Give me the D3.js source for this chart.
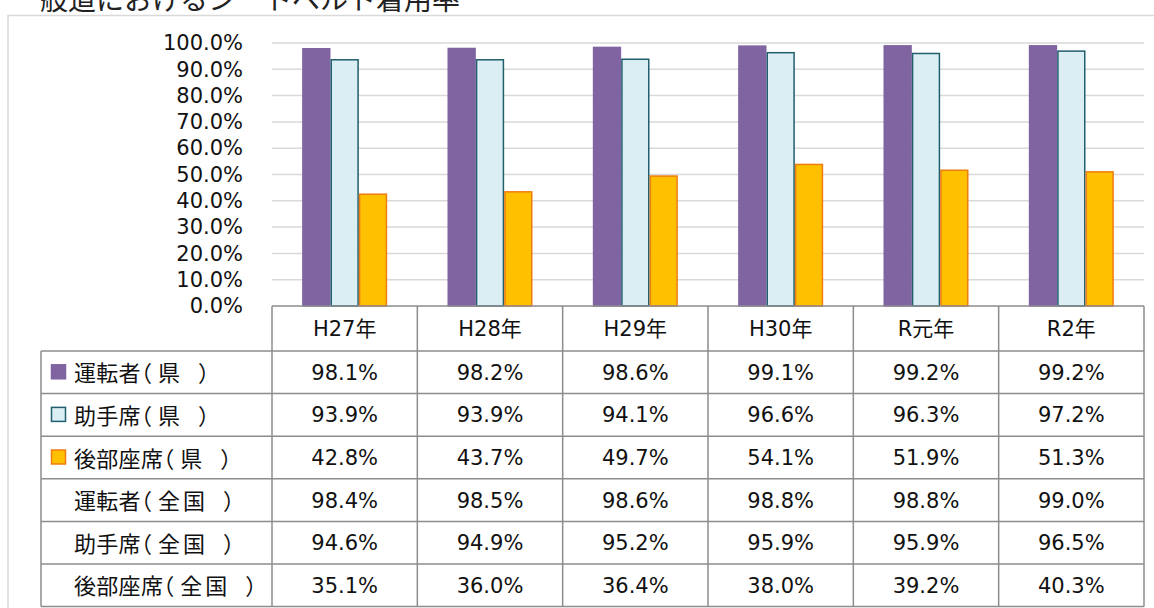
<!DOCTYPE html>
<html><head><meta charset="utf-8">
<script src="https://cdn.jsdelivr.net/npm/d3@7"></script>
<style>
html,body{margin:0;padding:0;background:#fff;}
svg{display:block;font-family:"DejaVu Sans","Noto Sans CJK JP",sans-serif;}
.half{font-feature-settings:"halt" 1;}
</style></head>
<body>
<svg id="chart" width="1154" height="608"></svg>
<script>
const title = "一般道におけるシートベルト着用率";
const categories = ["H27年","H28年","H29年","H30年","R元年","R2年"];
const seriesNames = ["運転者（県）","助手席（県）","後部座席（県）","運転者（全国）","助手席（全国）","後部座席（全国）"];
const driverPref = [98.1,98.2,98.6,99.1,99.2,99.2];
const passengerPref = [93.9,93.9,94.1,96.6,96.3,97.2];
const rearPref = [42.8,43.7,49.7,54.1,51.9,51.3];
const driverNat = [98.4,98.5,98.6,98.8,98.8,99.0];
const passengerNat = [94.6,94.9,95.2,95.9,95.9,96.5];
const rearNat = [35.1,36.0,36.4,38.0,39.2,40.3];
const yTicks = [0,10,20,30,40,50,60,70,80,90,100];

const tableRows = [driverPref, passengerPref, rearPref, driverNat, passengerNat, rearNat];
const barSeries = [driverPref, passengerPref, rearPref];
const fills = ["#8064A2","#DAEEF3","#FFC000"];
const strokes = ["#8064A2","#215E6E","#EE7D10"];

const svg = d3.select("#chart");

// outer frame
svg.append("path").attr("d","M8,608V15.5H1160").attr("fill","none")
  .attr("stroke","#d9d9d9").attr("stroke-width",1.5);

// title (cut off at top, as in the reference)
svg.append("text").attr("x",12).attr("y",10).attr("font-size",28)
  .attr("font-family","'Noto Sans CJK JP',sans-serif").attr("fill","#222").text(title);

const x = d3.scaleBand().domain(categories).range([272,1144]).padding(0);
const y = d3.scaleLinear().domain([0,100]).range([306,43]);
const groupW = x.bandwidth()*0.585;
const xs = d3.scaleBand().domain([0,1,2]).range([0,groupW]).padding(0);

// gridlines
svg.append("g").selectAll("line").data(yTicks.filter(d=>d>0)).join("line")
  .attr("x1",272).attr("x2",1144).attr("y1",d=>y(d)).attr("y2",d=>y(d))
  .attr("stroke","#d9d9d9").attr("stroke-width",1.5);

// y axis labels
const yAxis = d3.axisLeft(y).tickValues(yTicks).tickSize(0).tickPadding(0)
  .tickFormat(d=>d3.format(".1%")(d/100));
const ga = svg.append("g").attr("transform","translate(243,0)").call(yAxis);
ga.select(".domain").remove();
ga.selectAll("text").attr("font-size",21).attr("fill","#111")
  .attr("font-family","'DejaVu Sans',sans-serif");

// bars
barSeries.forEach((vals,si)=>{
  svg.append("g").selectAll("rect").data(vals).join("rect")
    .attr("x",(d,i)=>x(categories[i])+(x.bandwidth()-groupW)/2+xs(si)+0.75)
    .attr("width",xs.bandwidth()-1.5)
    .attr("y",d=>y(d)+0.75)
    .attr("height",d=>y(0)-y(d)-0.75)
    .attr("fill",fills[si]).attr("stroke",strokes[si]).attr("stroke-width",1.5);
});

// table
const tblTop = 306, headerBottom = 351, rowH = 42.6;
const labelLeft = 41;
const rowY = i => headerBottom + i*rowH;
const tableBottom = rowY(tableRows.length);
const tg = svg.append("g");
const lc = "#8c8c8c";
tg.append("line").attr("x1",272).attr("x2",1144).attr("y1",tblTop).attr("y2",tblTop)
  .attr("stroke",lc).attr("stroke-width",1.5);
d3.range(tableRows.length+1).forEach(i=>{
  tg.append("line").attr("x1",labelLeft).attr("x2",1144).attr("y1",rowY(i)).attr("y2",rowY(i))
    .attr("stroke",lc).attr("stroke-width",1.5);
});
tg.append("line").attr("x1",labelLeft).attr("x2",labelLeft).attr("y1",headerBottom).attr("y2",tableBottom)
  .attr("stroke",lc).attr("stroke-width",1.5);
categories.concat(["end"]).forEach((c,i)=>{
  const xx = i<categories.length ? x(c) : x.range()[1];
  tg.append("line").attr("x1",xx).attr("x2",xx).attr("y1",tblTop).attr("y2",tableBottom)
    .attr("stroke",lc).attr("stroke-width",1.5);
});
tg.selectAll("text.hdr").data(categories).join("text").attr("class","hdr")
  .attr("x",d=>x(d)+x.bandwidth()/2).attr("y",(tblTop+headerBottom)/2)
  .attr("text-anchor","middle").attr("dominant-baseline","central")
  .attr("font-size",21).attr("fill","#111").text(d=>d);
seriesNames.forEach((name,i)=>{
  const cy = rowY(i)+rowH/2;
  if(i<3){
    tg.append("rect").attr("x",51.5).attr("y",cy-7.5).attr("width",14).attr("height",14)
      .attr("fill",fills[i]).attr("stroke",strokes[i]).attr("stroke-width",1.5);
  }
  const m = name.match(/^(.*)（(.*)）$/);
  const t = tg.append("text").attr("x",74).attr("y",cy-1).attr("dominant-baseline","central")
    .attr("font-family","'Noto Sans CJK JP',sans-serif")
    .attr("font-size",22).attr("fill","#111");
  t.append("tspan").attr("letter-spacing",0.3).text(m[1]);
  t.append("tspan").attr("class","half").text("（");
  t.append("tspan").attr("dx",6).attr("letter-spacing",3).text(m[2]);
  t.append("tspan").attr("dx",15).text("）");
  tg.append("g").selectAll("text").data(tableRows[i]).join("text")
    .attr("x",(d,j)=>x(categories[j])+x.bandwidth()/2).attr("y",cy+0.5)
    .attr("text-anchor","middle").attr("dominant-baseline","central")
    .attr("font-size",21).attr("fill","#111").text(d=>d.toFixed(1)+"%");
});
</script>
</body></html>
